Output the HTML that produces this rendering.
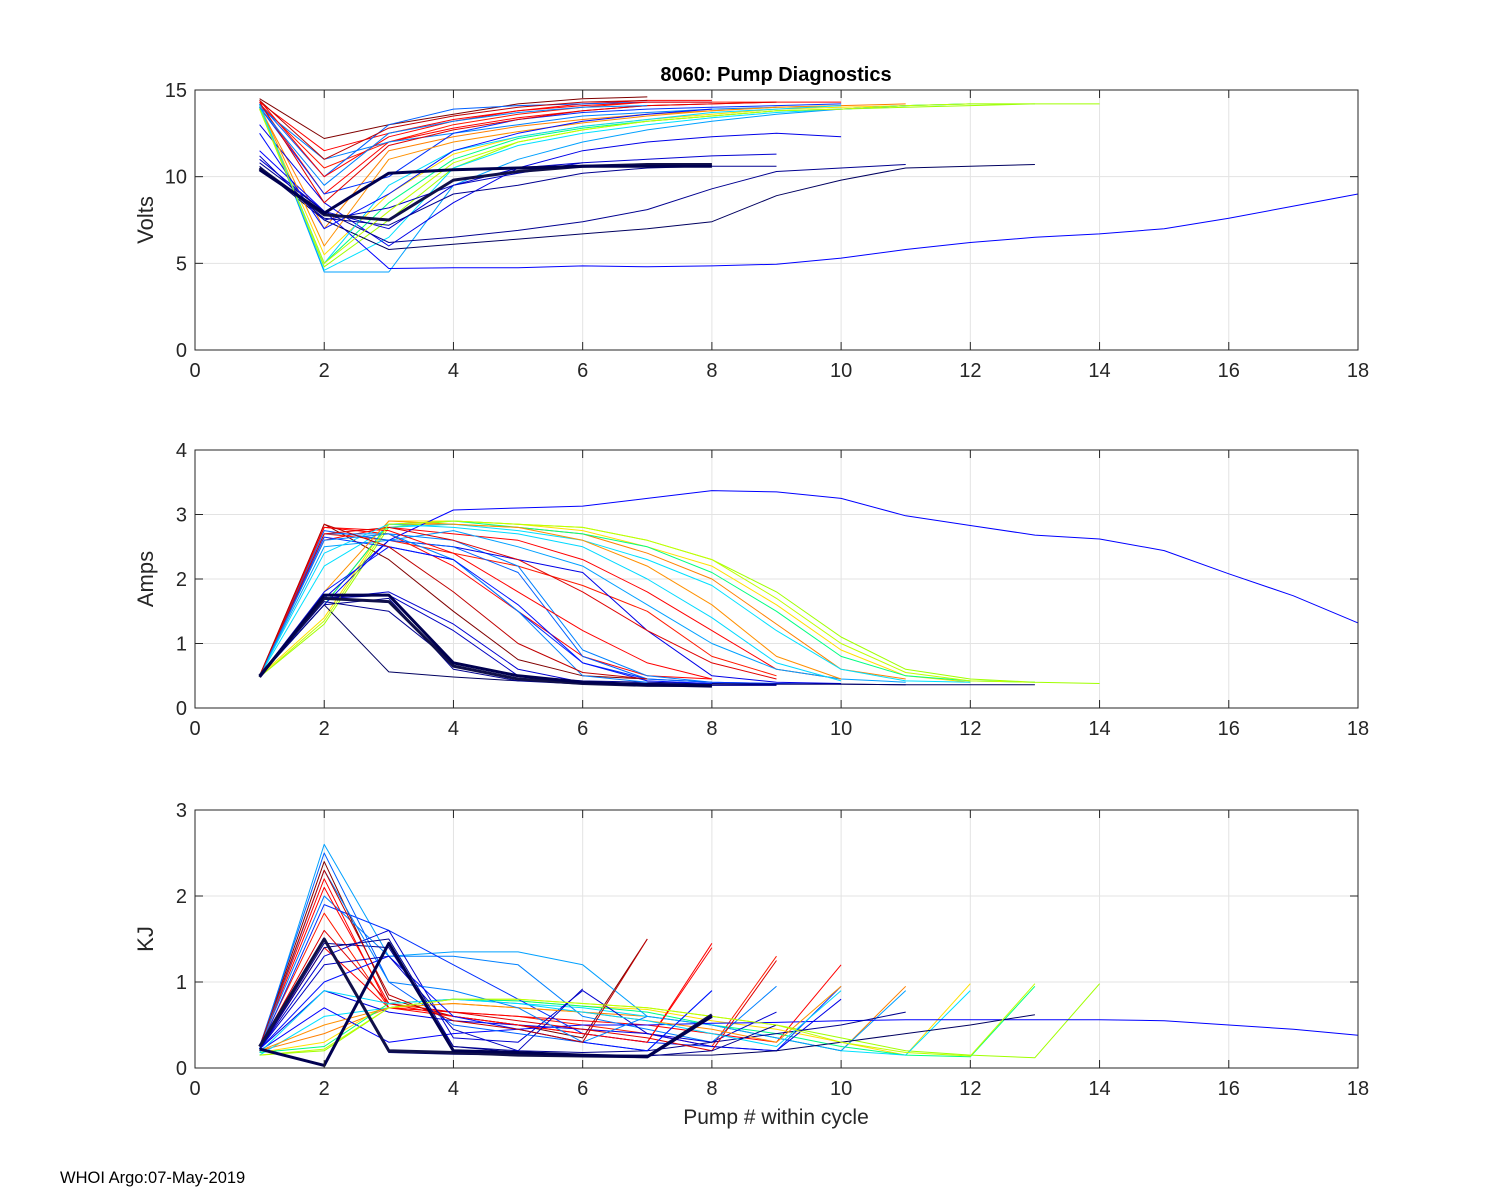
<!DOCTYPE html>
<html><head><meta charset="utf-8">
<style>
html,body{margin:0;padding:0;background:#fff;}
svg{display:block;font-family:"Liberation Sans",Arial,sans-serif;}
</style></head>
<body>
<svg id="chart" width="1500" height="1200" viewBox="0 0 1500 1200">
<rect x="0" y="0" width="1500" height="1200" fill="#fff"/>
<text x="776" y="81" text-anchor="middle" font-size="20" font-weight="bold">8060: Pump Diagnostics</text>
<text x="776" y="1124" text-anchor="middle" font-size="21" fill="#262626">Pump # within cycle</text>
<text x="60" y="1183" font-size="16.5" fill="#000">WHOI Argo:07-May-2019</text>
</svg>
<script>
const xTicks = [0,2,4,6,8,10,12,14,16,18];
const voltTicks = [0,5,10,15];
const ampTicks = [0,1,2,3,4];
const kjTicks = [0,1,2,3];
const names = ['s01','s02','s03','s04','s05','s06','s07','s08','s09','s10','s11','s12','s13','s14','s15','s16','s17','s18','s19','s20','s21','s22','s23','s24','s25','s26','s27','s28','s29','s30'];
const colors = ['#800000','#ff0000','#ff1a00','#ff0000','#ff8000','#ffe000','#a0ff00','#00ff80','#00e0ff','#00a0ff','#0080ff','#0000ff','#0030ff','#0000e8','#0000d0','#000090','#000060','#0060ff','#10104a','#000050','#ff0000','#e00000','#ff9000','#00d8ff','#0080ff','#0010ff','#0000c0','#000090','#c00000','#c0ff00'];
const widths = [1,1,1,1,1,1,1,1,1,1,1,1,1,1,1,1,1,1,3,3,1,1,1,1,1,1,1,1,1,1];
const volts = [
[14.5,12.2,13,13.6,14.2,14.5,14.6],
[14.3,11.5,12.5,13.3,13.8,14.2,14.4,14.4],
[14.2,10.5,12,13,13.6,14,14.3,14.3,14.3],
[14.2,9,12,12.8,13.4,13.8,14.1,14.2,14.3,14.3],
[14,7,11.5,12.3,12.9,13.3,13.6,13.8,14,14.1,14.2],
[14,5.5,9,11.3,12.3,12.9,13.3,13.6,13.9,14,14.1,14.2],
[13.9,4.8,7.5,10.5,12,12.7,13.2,13.5,13.8,13.9,14,14.1,14.2,14.2],
[14,5,8.5,11,12.2,12.8,13.2,13.5,13.8,13.9,14.1,14.2,14.2],
[14.1,4.6,6.5,10.5,11.8,12.5,13,13.4,13.7,13.9,14.1,14.2],
[14.2,4.5,4.5,9.5,11,12,12.7,13.2,13.6,13.9,14.1],
[14,11,12,12.5,13,13.5,13.7,13.9,14],
[11.5,8,4.7,4.75,4.75,4.85,4.8,4.85,4.95,5.3,5.8,6.2,6.5,6.7,7,7.6,8.3,9],
[14,9,10,12.5,13.3,13.7,13.9,14,14.1,14.2],
[13,8.5,6,8.5,10.5,11.5,12,12.3,12.5,12.3],
[11,8,7,9.5,10.5,10.8,11,11.2,11.3],
[10.8,8,6.2,6.5,6.9,7.4,8.1,9.3,10.3,10.5,10.7],
[10.5,7.5,5.8,6.1,6.4,6.7,7,7.4,8.9,9.8,10.5,10.6,10.7],
[14.2,10,13,13.9,14.1,14.2,14.3,14.3],
[10.5,7.8,7.5,9.8,10.3,10.6,10.7,10.7],
[10.4,7.9,10.2,10.4,10.5,10.6,10.6,10.6],
[14.4,10,12.3,13.2,13.8,14.1,14.3,14.3],
[14.3,8.5,11.8,12.7,13.3,13.8,14.1,14.2,14.3],
[14.1,6,11,12,12.6,13.1,13.5,13.8,14,14.1],
[14.1,5,9.5,11.5,12.3,12.9,13.3,13.7,13.9,14.1],
[14,9.5,12.5,13.2,13.7,14,14.1],
[12.5,7,9,11.5,12.5,13.2,13.6,13.9],
[11.2,7.5,8.2,9.5,10.2,10.8],
[10.6,7.6,7.2,9,9.5,10.2,10.5,10.6,10.6],
[14.4,11,12.8,13.5,14,14.3,14.4],
[13.9,5,8,10.8,12,12.7,13.2,13.5,13.8,13.9,14.1,14.2,14.2]
];
const amps = [
[0.5,2.85,2.3,1.5,0.75,0.5,0.45],
[0.5,2.8,2.7,2.2,1.5,0.8,0.5,0.45],
[0.5,2.7,2.6,2.4,2.2,1.9,1.5,0.8,0.5],
[0.5,2.6,2.8,2.7,2.6,2.3,1.8,1.2,0.6,0.45],
[0.5,1.6,2.85,2.85,2.8,2.7,2.4,2,1.3,0.6,0.45],
[0.5,1.4,2.9,2.9,2.85,2.75,2.5,2.2,1.6,0.9,0.5,0.4],
[0.48,1.3,2.8,2.9,2.85,2.8,2.6,2.3,1.8,1.1,0.6,0.45,0.4,0.38],
[0.5,1.6,2.85,2.9,2.8,2.7,2.5,2.1,1.5,0.8,0.5,0.42,0.4],
[0.5,2.2,2.8,2.85,2.75,2.6,2.3,1.9,1.2,0.6,0.42,0.4],
[0.5,2.5,2.6,2.75,2.5,2.2,1.6,1,0.6,0.45,0.4],
[0.5,2.7,2.7,2.6,2.2,0.9,0.5,0.4,0.38],
[0.5,1.6,2.6,3.07,3.1,3.13,3.25,3.37,3.35,3.25,2.98,2.83,2.68,2.62,2.44,2.08,1.74,1.32],
[0.5,2.65,2.5,2.3,1.5,0.7,0.45,0.4,0.38,0.37],
[0.5,1.7,2.6,2.5,2.3,2.1,1.2,0.5,0.4,0.38],
[0.5,1.7,1.8,1.3,0.6,0.4,0.38,0.37,0.36],
[0.5,1.65,1.5,0.7,0.5,0.42,0.4,0.38,0.37,0.37,0.36],
[0.5,1.6,0.56,0.48,0.42,0.4,0.38,0.37,0.37,0.37,0.36,0.36,0.36],
[0.5,2.75,2.6,2.5,2.1,0.8,0.45,0.4],
[0.5,1.7,1.65,0.65,0.45,0.38,0.35,0.35],
[0.48,1.75,1.75,0.7,0.5,0.4,0.36,0.34],
[0.5,2.8,2.75,2.4,1.8,1.2,0.7,0.45],
[0.5,2.7,2.8,2.6,2.3,1.8,1.2,0.7,0.45],
[0.5,1.8,2.9,2.85,2.8,2.6,2.2,1.6,0.8,0.45],
[0.5,2.4,2.85,2.8,2.7,2.5,2,1.4,0.7,0.42],
[0.5,2.6,2.7,2.3,1.5,0.5,0.4],
[0.5,1.8,2.5,2.3,1.6,0.7,0.42,0.38],
[0.5,1.7,1.75,1.2,0.5,0.38],
[0.5,1.6,1.7,0.6,0.42,0.37,0.36,0.35,0.35],
[0.5,2.85,2.5,1.8,1,0.55,0.45],
[0.48,1.35,2.85,2.9,2.85,2.8,2.6,2.3,1.7,1,0.55,0.42,0.4]
];
const kj = [
[0.25,2.4,0.8,0.6,0.5,0.35,1.5],
[0.25,2.2,0.7,0.6,0.5,0.4,0.3,1.45],
[0.25,1.8,0.7,0.65,0.6,0.5,0.4,0.25,1.3],
[0.22,1.4,0.7,0.65,0.6,0.55,0.5,0.4,0.3,1.2],
[0.2,0.4,0.7,0.75,0.7,0.65,0.6,0.5,0.35,0.2,0.95],
[0.18,0.3,0.75,0.8,0.78,0.72,0.68,0.55,0.45,0.3,0.15,0.98],
[0.15,0.2,0.7,0.8,0.8,0.75,0.7,0.6,0.5,0.35,0.2,0.15,0.12,0.98],
[0.18,0.25,0.75,0.8,0.78,0.72,0.65,0.5,0.4,0.25,0.15,0.13,0.95],
[0.15,0.6,0.7,0.8,0.75,0.7,0.6,0.5,0.35,0.2,0.15,0.9],
[0.22,2.6,1.3,1.35,1.35,1.2,0.6,0.5,0.35,0.2,0.9],
[0.25,2.0,1.3,1.3,1.2,0.6,0.45,0.3,0.95],
[0.2,0.7,0.3,0.4,0.45,0.5,0.5,0.52,0.53,0.55,0.56,0.56,0.56,0.56,0.55,0.5,0.45,0.38],
[0.22,1.9,1.6,1.2,0.8,0.4,0.3,0.25,0.2,0.95],
[0.22,0.9,0.65,0.55,0.5,0.45,0.4,0.25,0.2,0.8],
[0.22,1.3,1.6,0.35,0.3,0.9,0.4,0.3,0.65],
[0.22,1.45,1.4,0.25,0.2,0.18,0.2,0.3,0.4,0.5,0.65],
[0.22,1.5,0.18,0.16,0.15,0.15,0.15,0.15,0.2,0.3,0.4,0.5,0.62],
[0.25,2.5,1.0,0.5,0.4,0.3,0.2,0.9],
[0.25,1.5,0.2,0.18,0.15,0.14,0.13,0.62],
[0.22,0.03,1.45,0.2,0.18,0.15,0.13,0.6],
[0.25,2.1,0.75,0.6,0.5,0.4,0.3,1.4],
[0.25,1.6,0.75,0.65,0.55,0.45,0.35,0.2,1.25],
[0.2,0.5,0.7,0.75,0.7,0.65,0.55,0.45,0.3,0.95],
[0.18,0.9,0.75,0.8,0.75,0.65,0.55,0.4,0.25,0.9],
[0.22,2.3,1.0,0.9,0.7,0.3,0.6],
[0.22,1.0,1.3,0.6,0.45,0.3,0.2,0.9],
[0.22,1.2,1.3,0.45,0.2,0.92],
[0.22,1.4,1.5,0.25,0.18,0.15,0.14,0.2,0.5],
[0.25,2.3,0.85,0.55,0.45,0.3,1.5],
[0.15,0.22,0.7,0.8,0.8,0.75,0.7,0.6,0.5,0.3,0.18,0.14,0.98]
];

const NS = 'http://www.w3.org/2000/svg';
const svg = document.getElementById('chart');
const L = 195, R = 1358, XMAX = 18;
function xs(v){ return L + (R - L) * v / XMAX; }

const panels = [
  {key:'volts', label:'Volts', top:90, bot:350, max:15, ticks:voltTicks, data:volts},
  {key:'amps', label:'Amps', top:450, bot:708, max:4, ticks:ampTicks, data:amps},
  {key:'kj', label:'KJ', top:810, bot:1068, max:3, ticks:kjTicks, data:kj}
];

function mk(tag, attrs){
  const e = document.createElementNS(NS, tag);
  for (const k in attrs) e.setAttribute(k, attrs[k]);
  return e;
}

panels.forEach(p => {
  const ys = v => p.bot - (p.bot - p.top) * v / p.max;
  const g = mk('g', {});
  
  
  svg.appendChild(g);
  xTicks.forEach(t => {
    const ln = mk('line', {x1:xs(t), x2:xs(t), y1:p.top, y2:p.bot, stroke:'#e3e3e3', 'stroke-width':1});
    
    
    g.appendChild(ln);
  });
  p.ticks.forEach(t => {
    const ln = mk('line', {x1:L, x2:R, y1:ys(t), y2:ys(t), stroke:'#e3e3e3', 'stroke-width':1});
    
    
    g.appendChild(ln);
  });
  [1, 3].forEach(w => {
    p.data.forEach((arr, i) => {
      if (widths[i] !== w) return;
      const pts = arr.map((v, j) => xs(j + 1).toFixed(1) + ',' + ys(v).toFixed(1)).join(' ');
      const pl = mk('polyline', {points:pts, fill:'none', stroke:colors[i], 'stroke-width':widths[i], 'stroke-linejoin':'round'});
      
      
      g.appendChild(pl);
    });
  });
  const box = mk('rect', {x:L, y:p.top, width:R-L, height:p.bot-p.top, fill:'none', stroke:'#262626', 'stroke-width':1});
  
  
  g.appendChild(box);
  xTicks.forEach(t => {
    const tk = mk('line', {x1:xs(t), x2:xs(t), y1:p.bot, y2:p.bot-8, stroke:'#262626', 'stroke-width':1});
    
    
    g.appendChild(tk);
    const tk2 = mk('line', {x1:xs(t), x2:xs(t), y1:p.top, y2:p.top+8, stroke:'#262626', 'stroke-width':1});
    
    
    g.appendChild(tk2);
    const tx = mk('text', {x:xs(t), y:p.bot+27, 'text-anchor':'middle', 'font-size':20, fill:'#262626'});
    tx.textContent = t;
    
    
    g.appendChild(tx);
  });
  p.ticks.forEach(t => {
    const tk = mk('line', {x1:L, x2:L+8, y1:ys(t), y2:ys(t), stroke:'#262626', 'stroke-width':1});
    
    
    g.appendChild(tk);
    const tk2 = mk('line', {x1:R, x2:R-8, y1:ys(t), y2:ys(t), stroke:'#262626', 'stroke-width':1});
    
    
    g.appendChild(tk2);
    const tx = mk('text', {x:L-8, y:ys(t)+7, 'text-anchor':'end', 'font-size':20, fill:'#262626'});
    tx.textContent = t;
    
    
    g.appendChild(tx);
  });
  const cy = (p.top + p.bot) / 2;
  const yl = mk('text', {x:0, y:0, 'text-anchor':'middle', 'font-size':22, fill:'#262626', transform:'translate(153,' + cy + ') rotate(-90)'});
  yl.textContent = p.label;
  
  
  g.appendChild(yl);
});
</script>
</body></html>
